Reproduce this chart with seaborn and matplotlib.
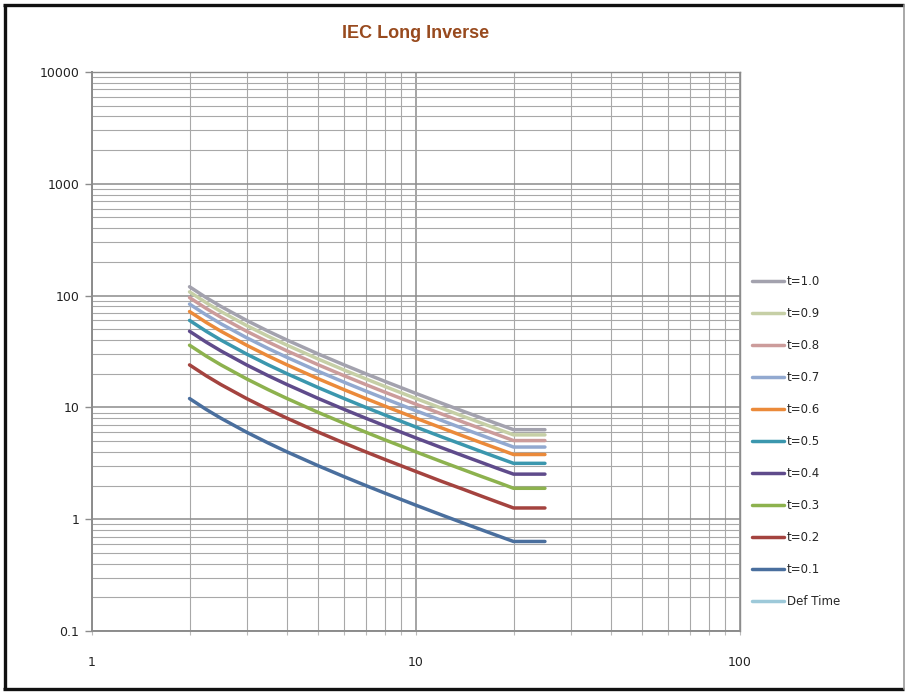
import matplotlib
matplotlib.use("Agg")
import matplotlib.pyplot as plt
from matplotlib.lines import Line2D
from matplotlib.ticker import FixedLocator, NullFormatter, FixedFormatter
import seaborn as sns
import pandas as pd

# Current multiples (I / Is) at which the operating time is tabulated
current = [2, 2.25, 2.5, 3, 3.5, 4, 5, 6, 7, 8, 10, 12, 14, 16, 18, 20, 25]

# Operating time (s) for each time multiplier setting
t_01 = [12, 9.6, 8.0, 6.0, 4.8, 4.0, 3.0, 2.4, 2.0, 1.714, 1.333, 1.091, 0.923, 0.80, 0.706, 0.632, 0.632]
t_02 = [24, 19.2, 16, 12, 9.6, 8, 6, 4.8, 4, 3.43, 2.67, 2.18, 1.85, 1.60, 1.41, 1.26, 1.26]
t_03 = [36, 28.8, 24, 18, 14.4, 12, 9, 7.2, 6, 5.14, 4.0, 3.27, 2.77, 2.4, 2.12, 1.89, 1.89]
t_04 = [48, 38.4, 32, 24, 19.2, 16, 12, 9.6, 8, 6.86, 5.33, 4.36, 3.69, 3.2, 2.82, 2.53, 2.53]
t_05 = [60, 48, 40, 30, 24, 20, 15, 12, 10, 8.57, 6.67, 5.45, 4.62, 4.0, 3.53, 3.16, 3.16]
t_06 = [72, 57.6, 48, 36, 28.8, 24, 18, 14.4, 12, 10.29, 8.0, 6.55, 5.54, 4.8, 4.24, 3.79, 3.79]
t_07 = [84, 67.2, 56, 42, 33.6, 28, 21, 16.8, 14, 12.0, 9.33, 7.64, 6.46, 5.6, 4.94, 4.42, 4.42]
t_08 = [96, 76.8, 64, 48, 38.4, 32, 24, 19.2, 16, 13.71, 10.67, 8.73, 7.38, 6.4, 5.65, 5.05, 5.05]
t_09 = [108, 86.4, 72, 54, 43.2, 36, 27, 21.6, 18, 15.43, 12.0, 9.82, 8.31, 7.2, 6.35, 5.68, 5.68]
t_10 = [120, 96, 80, 60, 48, 40, 30, 24, 20, 17.14, 13.33, 10.91, 9.23, 8.0, 7.06, 6.32, 6.32]

series_names = ["t=0.1", "t=0.2", "t=0.3", "t=0.4", "t=0.5",
                "t=0.6", "t=0.7", "t=0.8", "t=0.9", "t=1.0"]
series_values = [t_01, t_02, t_03, t_04, t_05, t_06, t_07, t_08, t_09, t_10]

series_colors = {
    "t=0.1": "#4A6F9E",
    "t=0.2": "#A4433F",
    "t=0.3": "#8DB24E",
    "t=0.4": "#5F4B8B",
    "t=0.5": "#3B97AE",
    "t=0.6": "#EB8A3A",
    "t=0.7": "#92A9D0",
    "t=0.8": "#CC9C9B",
    "t=0.9": "#C6CFA6",
    "t=1.0": "#A3A2AE",
    "Def Time": "#9DC9D9",
}

y_tick_values = [0.1, 1, 10, 100, 1000, 10000]
y_tick_labels = ["0.1", "1", "10", "100", "1000", "10000"]
x_tick_values = [1, 10, 100]
x_tick_labels = ["1", "10", "100"]

rows = []
for name, vals in zip(series_names, series_values):
    for x, y in zip(current, vals):
        rows.append({"current": x, "time": y, "setting": name})
df = pd.DataFrame(rows)

sns.set_style("white")
plt.rcParams["font.family"] = ["DejaVu Sans"]

fig = plt.figure(figsize=(9.07, 6.92), dpi=100)
ax = fig.add_axes([92 / 907, 1 - 631 / 692, (740 - 92) / 907, (631 - 72) / 692])

sns.lineplot(data=df, x="current", y="time", hue="setting",
             hue_order=series_names, palette=series_colors,
             linewidth=2.5, legend=False, ax=ax, sort=True,
             estimator=None)

ax.set_xscale("log")
ax.set_yscale("log")
ax.set_xlim(1, 100)
ax.set_ylim(0.1, 10000)

minor = [m * 10.0 ** e for e in range(-1, 4) for m in range(2, 10)]
minor_x = [m * 10.0 ** e for e in range(0, 2) for m in range(2, 10)]
ax.yaxis.set_major_locator(FixedLocator(y_tick_values))
ax.yaxis.set_major_formatter(FixedFormatter(y_tick_labels))
ax.yaxis.set_minor_locator(FixedLocator(minor))
ax.yaxis.set_minor_formatter(NullFormatter())
ax.xaxis.set_major_locator(FixedLocator(x_tick_values))
ax.xaxis.set_major_formatter(FixedFormatter(x_tick_labels))
ax.xaxis.set_minor_locator(FixedLocator(minor_x))
ax.xaxis.set_minor_formatter(NullFormatter())

ax.grid(True, which="major", color="#8C8C8C", linewidth=1.1)
ax.grid(True, which="minor", color="#A8A8A8", linewidth=0.8)
ax.set_axisbelow(True)

for side in ["top", "right"]:
    ax.spines[side].set_color("#8C8C8C")
    ax.spines[side].set_linewidth(1.0)
for side in ["left", "bottom"]:
    ax.spines[side].set_color("#8C8C8C")
    ax.spines[side].set_linewidth(1.4)

ax.tick_params(axis="y", which="major", left=True, length=5, width=1,
               color="#8C8C8C", labelsize=9, pad=4, labelcolor="#222222")
ax.tick_params(axis="y", which="minor", left=False)
ax.tick_params(axis="x", which="major", bottom=True, length=3, width=0.8,
               color="#BBBBBB", labelsize=9, pad=15, labelcolor="#222222")
ax.tick_params(axis="x", which="minor", bottom=True, length=3, width=0.8,
               color="#BBBBBB")
ax.set_xlabel("")
ax.set_ylabel("")

fig.text(416 / 907, 1 - 34 / 692, "IEC Long Inverse",
         family=["Liberation Sans Narrow", "Liberation Sans", "DejaVu Sans"],
         fontsize=13, fontweight="bold", color="#984A1E",
         ha="center", va="center")

legend_order = ["t=1.0", "t=0.9", "t=0.8", "t=0.7", "t=0.6", "t=0.5",
                "t=0.4", "t=0.3", "t=0.2", "t=0.1", "Def Time"]
handles = [Line2D([0], [0], color=series_colors[n], linewidth=2.5)
           for n in legend_order]
fig.legend(handles, legend_order, loc="upper left",
           bbox_to_anchor=(747 / 907, 1 - 270 / 692), frameon=False,
           fontsize=8.5, handlelength=2.7, handletextpad=0.3,
           labelspacing=1.61, borderaxespad=0)

# Outer chart frame: dark on three sides, light grey on the right
frame_kw = dict(transform=fig.transFigure, color="#111111", linewidth=2.4,
                solid_capstyle="butt")
l, r, b, t = 4.5 / 907, 904 / 907, 1 - 689 / 692, 1 - 5 / 692
fig.add_artist(Line2D([l, l], [b, t], **frame_kw))
fig.add_artist(Line2D([l - 1.2 / 907, r], [t, t], **frame_kw))
fig.add_artist(Line2D([l - 1.2 / 907, r], [b, b], **frame_kw))
fig.add_artist(Line2D([r, r], [b, t], transform=fig.transFigure,
                      color="#9A9A9A", linewidth=1.2))

fig.savefig("out.png", dpi=100)
